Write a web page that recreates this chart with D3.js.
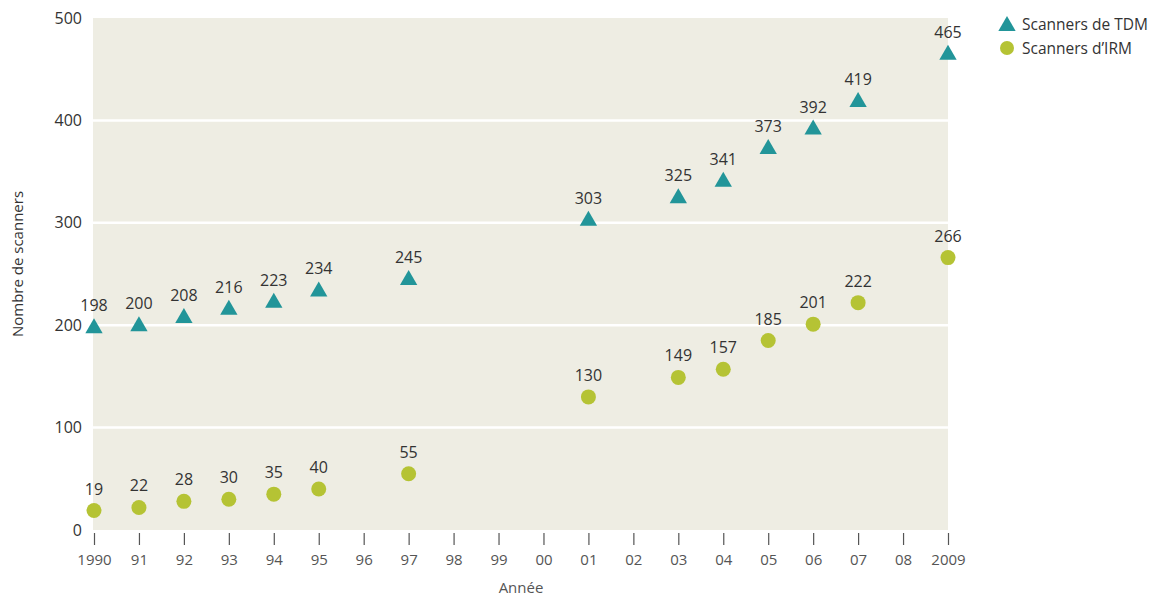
<!DOCTYPE html>
<html lang="fr">
<head>
<meta charset="utf-8">
<script src="https://cdn.jsdelivr.net/npm/d3@7"></script>
<style>
  html, body { margin: 0; padding: 0; background: #fff; }
  svg { display: block; font-family: "Open Sans", "Noto Sans", sans-serif; }
</style>
</head>
<body>
<svg id="chart" width="1158" height="596"></svg>
<script>
// Years and tick labels
const years = [1990, 1991, 1992, 1993, 1994, 1995, 1997, 2001, 2003, 2004, 2005, 2006, 2007, 2009];
const tickYears = d3.range(1990, 2010);
const tickLabels = ["1990", "91", "92", "93", "94", "95", "96", "97", "98", "99", "00", "01", "02", "03", "04", "05", "06", "07", "08", "2009"];
const yTicks = [0, 100, 200, 300, 400, 500];

// Number of scanners per year
const tdmValues = [198, 200, 208, 216, 223, 234, 245, 303, 325, 341, 373, 392, 419, 465];
const irmValues = [19, 22, 28, 30, 35, 40, 55, 130, 149, 157, 185, 201, 222, 266];

const seriesNames = ["Scanners de TDM", "Scanners d\u2019IRM"];

const colTDM = "#229599";
const colIRM = "#b5c334";
const textCol = "#333";
const axisCol = "#555";

const svg = d3.select("#chart");
const margin = { left: 94, right: 210, top: 18, bottom: 66 };
const W = 1158, H = 596;

const x = d3.scaleLinear().domain([1990, 2009]).range([margin.left, W - margin.right]);
const y = d3.scaleLinear().domain([0, 500]).range([H - margin.bottom, margin.top]);

// Plot background
svg.append("rect")
  .attr("x", x(1990) - 1).attr("y", y(500))
  .attr("width", x(2009) - x(1990) + 1).attr("height", y(0) - y(500))
  .attr("fill", "#eeede3");

// Horizontal grid lines
svg.append("g").selectAll("line")
  .data(yTicks.filter(d => d > 0 && d < 500))
  .join("line")
  .attr("x1", x(1990) - 1).attr("x2", x(2009))
  .attr("y1", d => y(d)).attr("y2", d => y(d))
  .attr("stroke", "#fff").attr("stroke-width", 2.5);

// Y axis
const yAxis = svg.append("g")
  .attr("transform", `translate(${x(1990) - 12},0)`)
  .call(d3.axisLeft(y).tickValues(yTicks).tickSize(0).tickPadding(0));
yAxis.select(".domain").remove();
yAxis.selectAll("text")
  .attr("fill", textCol).attr("font-size", 16)
  .attr("font-family", "Open Sans, Noto Sans, sans-serif");

// X axis
const xAxis = svg.append("g")
  .attr("transform", `translate(0,${y(0) + 3})`)
  .call(d3.axisBottom(x).tickValues(tickYears).tickSize(12).tickPadding(9)
    .tickFormat((d, i) => tickLabels[i]));
xAxis.select(".domain").remove();
xAxis.selectAll("line").attr("stroke", axisCol).attr("stroke-width", 1.2);
xAxis.selectAll("text")
  .attr("fill", axisCol).attr("font-size", 15)
  .attr("font-family", "Open Sans, Noto Sans, sans-serif");

// Axis titles
svg.append("text")
  .attr("x", (x(1990) + x(2009)) / 2).attr("y", 593)
  .attr("text-anchor", "middle").attr("fill", axisCol).attr("font-size", 15)
  .text("Ann\u00e9e");

svg.append("text")
  .attr("transform", `translate(23,${(y(0) + y(500)) / 2 - 10}) rotate(-90)`)
  .attr("text-anchor", "middle").attr("fill", textCol).attr("font-size", 15)
  .text("Nombre de scanners");

const triangle = d3.symbol().type(d3.symbolTriangle).size(130);

const tdm = years.map((yr, i) => ({ yr, v: tdmValues[i] }));
const irm = years.map((yr, i) => ({ yr, v: irmValues[i] }));

// CT scanner markers
svg.append("g").selectAll("path")
  .data(tdm).join("path")
  .attr("d", triangle)
  .attr("transform", d => `translate(${x(d.yr)},${y(d.v) + 1})`)
  .attr("fill", colTDM);

// MRI scanner markers
svg.append("g").selectAll("circle")
  .data(irm).join("circle")
  .attr("cx", d => x(d.yr)).attr("cy", d => y(d.v))
  .attr("r", 7.5)
  .attr("fill", colIRM);

// Value labels
const addLabels = (data) => svg.append("g").selectAll("text")
  .data(data).join("text")
  .attr("x", d => x(d.yr)).attr("y", d => y(d.v) - 16)
  .attr("text-anchor", "middle").attr("fill", textCol).attr("font-size", 16)
  .text(d => d.v);
addLabels(tdm);
addLabels(irm);

// Legend
const legend = svg.append("g").attr("transform", "translate(1007,0)");
legend.append("path").attr("d", triangle).attr("transform", "translate(0,26)").attr("fill", colTDM);
legend.append("circle").attr("cx", 0).attr("cy", 48).attr("r", 7).attr("fill", colIRM);
legend.selectAll("text.leg")
  .data(seriesNames).join("text")
  .attr("class", "leg")
  .attr("x", 15).attr("y", (d, i) => 25 + i * 24)
  .attr("dy", "0.35em").attr("fill", textCol).attr("font-size", 15.5)
  .text(d => d);
</script>
</body>
</html>
